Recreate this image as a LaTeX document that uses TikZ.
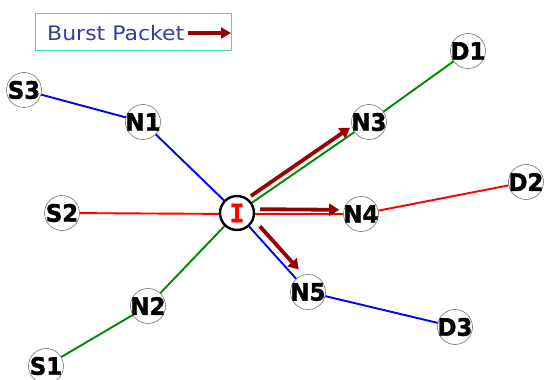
\documentclass[tikz,border=0pt]{standalone}
\usepackage{fontspec}
\setmainfont{DejaVu Sans}
\newfontfamily\monob{DejaVu Sans Mono Bold}[FakeBold=1.2]
\newfontfamily\heavy{DejaVu Sans Bold}[FakeBold=1.6]
\usetikzlibrary{arrows.meta,calc}
\definecolor{burst}{HTML}{990000}
\definecolor{legtxt}{HTML}{3A3AA8}
\definecolor{legbox}{HTML}{40D8B8}
\definecolor{lgreen}{HTML}{008800}
\begin{document}
\begin{tikzpicture}[x=1pt,y=-1pt,
  nd/.style={circle,draw=black!55,line width=0.6pt,fill=none,minimum size=35pt,inner sep=0pt,
    label={[font=\heavy\fontsize{24}{24}\selectfont,inner sep=0pt]center:\scalebox{0.95}[1]{#1}}},
  core/.style={circle,draw=black,line width=2.4pt,fill=white,minimum size=34pt,inner sep=0pt,
    font=\monob\fontsize{25}{25}\selectfont,text=red},
  ln/.style={line width=1.9pt},
  burstarrow/.style={draw=burst,line width=3.8pt,-{Triangle[length=10pt,width=12pt]}}]
\useasboundingbox (0,0) rectangle (547,380);
% legend
\node[draw=legbox,line width=0.8pt,minimum width=196pt,minimum height=37pt,inner sep=0pt] (leg) at (133,31.5) {};
\node[anchor=west,text=legtxt,font=\fontsize{20}{20}\selectfont,inner sep=0pt] (legt) at (47,33) {\scalebox{1.1}[1]{Burst Packet}};
\coordinate (legend) at (231,33);
\draw[draw=burst,line width=3.4pt,-{Triangle[length=10pt,width=11pt]}] (legt.east) ++(3,0) -- (legend);
% nodes
\node[nd=S3] (S3) at (24,90) {};
\node[nd=N1] (N1) at (143,122) {};
\node[nd=S2] (S2) at (62,213) {};
\node[nd=N3] (N3) at (369,122) {};
\node[nd=D1] (D1) at (468,51) {};
\node[nd=N4] (N4) at (361,214) {};
\node[nd=D2] (D2) at (526,182) {};
\node[nd=N2] (N2) at (148,306) {};
\node[nd=S1] (S1) at (46,366) {};
\node[nd=N5] (N5) at (308,292) {};
\node[nd=D3] (D3) at (455,327) {};
% links
\draw[ln,blue] (S3) -- (N1);
\draw[ln,blue] (N1) -- (237,213);
\draw[ln,blue] (237,213) -- (N5);
\draw[ln,blue] (N5) -- (D3);
\draw[ln,red] (S2) -- (237,214);
\draw[ln,red] (237,214) -- (N4);
\draw[ln,red] (N4) -- (D2);
\draw[ln,lgreen] (S1) -- (N2);
\draw[ln,lgreen] (N2) -- (237,213);
\draw[ln,lgreen] (237,213) -- (N3);
\draw[ln,lgreen] (N3) -- (D1);
\node[core] (I) at (237,213) {I};
% burst arrows
\draw[burstarrow,shorten <=3pt,shorten >=1pt,transform canvas={shift={(-3.5pt,5pt)}}] (I) -- (N3);
\draw[burstarrow,shorten <=5pt,shorten >=4pt,transform canvas={shift={(0pt,4pt)}}] (I) -- (N4);
\draw[burstarrow,shorten <=7pt,shorten >=5pt,transform canvas={shift={(6pt,5.5pt)}}] (I) -- (N5);
\end{tikzpicture}
\end{document}
